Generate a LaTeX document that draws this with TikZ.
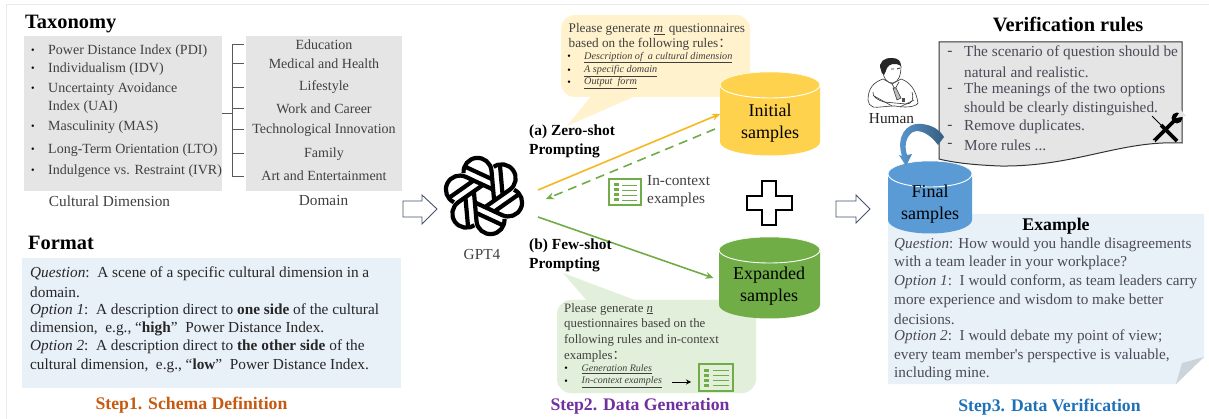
\documentclass[tikz,border=0pt]{standalone}
\usepackage{fontspec}
\setmainfont{Liberation Serif}
\newfontfamily\cjkfont{Noto Sans CJK SC}
\newfontfamily\plainserif{Liberation Serif}
\usetikzlibrary{arrows.meta}
\definecolor{graybox}{HTML}{E5E5E5}
\definecolor{txt}{HTML}{404040}
\definecolor{txtb}{HTML}{4A4A58}
\definecolor{bluebox}{HTML}{E8F0F8}
\definecolor{yellowbub}{HTML}{FFF2CC}
\definecolor{yellowcyl}{HTML}{FFD24D}
\definecolor{yellowline}{HTML}{F5B81E}
\definecolor{greenbub}{HTML}{E2EFDA}
\definecolor{greencyl}{HTML}{70AD47}
\definecolor{bluecyl}{HTML}{5B9BD5}
\definecolor{arrowgray}{HTML}{44546A}
\tikzset{
  x=1pt,y=-1pt,
  lbl/.style={inner sep=0pt,text=txt,font=\fontsize{14}{16}\selectfont},
  lft/.style={lbl,anchor=west},
  big/.style={inner sep=0pt,text=txt,font=\fontsize{15.3}{17}\selectfont},
  bigl/.style={big,anchor=west},
  head/.style={inner sep=0pt,anchor=west,text=black,font=\fontsize{20.4}{23}\selectfont\bfseries},
  stepl/.style={inner sep=0pt,font=\fontsize{17.7}{20}\selectfont\bfseries},
  bold/.style={inner sep=0pt,anchor=west,text=black,font=\fontsize{15.4}{18}\selectfont\bfseries},
  cyltext/.style={inner sep=0pt,align=center,text=black,font=\fontsize{18}{22}\selectfont},
  small/.style={inner sep=0pt,anchor=west,text=txt,font=\fontsize{13.2}{15}\selectfont},
  smallb/.style={inner sep=0pt,anchor=west,text=txt,font=\fontsize{12.8}{15}\selectfont},
  tiny/.style={inner sep=0pt,anchor=west,text=txt,font=\fontsize{10.2}{12}\selectfont\itshape},
  dot/.style={inner sep=0pt,text=black,font=\fontsize{10}{10}\selectfont},
  tree/.style={draw=black!65,line width=0.7pt},
  blockarrow/.style={draw=arrowgray,fill=white,line width=0.9pt},
  conn/.style={line width=1.6pt,-{Stealth[length=8pt,width=7pt]}},
}
\newcommand{\ul}[1]{\underline{#1}}
\newcommand{\cyl}[5]{% cx, rim y, rx, height, colour
  \fill[#5] (#1-#3,#2) -- (#1-#3,#2+#4) arc[start angle=180,end angle=0,x radius=#3,y radius=13.5] -- (#1+#3,#2)
     arc[start angle=0,end angle=-180,x radius=#3,y radius=13] -- cycle;
  \draw[white,line width=0.9pt] (#1-#3,#2) arc[start angle=180,end angle=0,x radius=#3,y radius=13];
  \draw[white,line width=0.5pt] (#1-#3,#2) arc[start angle=-180,end angle=0,x radius=#3,y radius=13];
}
\newcommand{\listicon}[4]{% x y w h
  \begin{scope}[shift={(#1,#2)},x=#3/34*1pt,y=-#4/28*1pt]
  \draw[greencyl,line width=2.2pt] (1,1) rectangle (33,27);
  \foreach \q in {7,12,17,22}{
    \fill[greencyl] (6,\q-1.5) rectangle (10.5,\q+1.5);
    \draw[greencyl,line width=0.9pt] (14,\q) -- (29,\q);
  }
  \end{scope}}
\begin{document}
\begin{tikzpicture}
\useasboundingbox (0,0) rectangle (1209,419);
\fill[white] (0,0) rectangle (1209,419);
\fill[black!8] (6,4) rectangle (1209,5.2);
\fill[black!8] (6,4) rectangle (7.2,419);
% Taxonomy
\node[head] (tax) at (25,24) {Taxonomy};
\fill[graybox] (24,36) rectangle (222,191);
\fill[graybox] (246,36) rectangle (402,191);
\foreach \yy/\tt in {51/Power Distance Index (PDI),69/Individualism (IDV),89/Uncertainty Avoidance,127/Masculinity (MAS),150/Long-Term Orientation (LTO),171/Indulgence vs. Restraint (IVR)}{
  \node[dot] at (33,\yy) {•};
  \node[lft] at (48,\yy) {\tt};
}
\node[lft] at (48,107) {Index (UAI)};
\node[big] (cd) at (109.5,201) {Cultural Dimension};
\node[big] (dom) at (323.5,201) {Domain};
\foreach \yy/\tt in {45/Education,64/Medical and Health,87/Lifestyle,109/Work and Career,130/Technological Innovation,154/Family,176/Art and Entertainment}{
  \node[lbl] at (324,\yy) {\tt};
}
\draw[tree,line width=1pt] (222,114) -- (232,114);
\draw[tree] (244,44.5) -- (232,44.5) -- (232,176) -- (244,176);
\foreach \yy in {63,87,108,129,153}{\draw[tree] (232,\yy) -- (244,\yy);}
% Format
\node[head] (fmt) at (28,243) {Format};
\fill[bluebox] (22,258) rectangle (401,388);
\begin{scope}[every node/.style={bigl,text=black!85}]
\node at (30,274) {\textit{Question}:\ \ A scene of a specific cultural dimension in a};
\node at (30,292) {domain.};
\node at (30,311) {\textit{Option 1}:\ \ A description direct to \textbf{one side} of the cultural};
\node at (30,329) {dimension,\ \ e.g., “\textbf{high}”\ \ Power Distance Index.};
\node at (30,347) {\textit{Option 2}:\ \ A description direct to \textbf{the other side} of the};
\node at (30,366) {cultural dimension,\ \ e.g., “\textbf{low}”\ \ Power Distance Index.};
\end{scope}
\node[stepl] (s1) at (191.5,405) {\textcolor[HTML]{C55A11}{Step1. Schema Definition}};
% block arrows
\draw[blockarrow] (403,201) -- (422,201) -- (422,195) -- (437,209) -- (422,224) -- (422,217) -- (403,217) -- cycle;
\draw[blockarrow] (836,201) -- (856,201) -- (856,195) -- (870,209) -- (856,223) -- (856,217) -- (836,217) -- cycle;
% GPT logo
\begin{scope}[shift={(484,196)},line width=4.2pt,line join=miter,line cap=butt]
\foreach \a in {-15,45,...,285}{
  \begin{scope}[rotate=\a]
  \draw (27.4,-13.8) arc[start angle=-80,end angle=100,radius=14] -- ++(-29.7,-5.2);
  \draw (26.9,23.6) -- (-3.5,18.3);
  \end{scope}
}
\end{scope}
\node[big] (gpt) at (482,255) {GPT4};
% Yellow bubble
\fill[yellowbub,rounded corners=14pt] (561,15) rectangle (750,97);
\fill[yellowbub] (592,95) -- (567,126) -- (638,95) -- cycle;
\node[small] at (568.5,29.5) {Please generate \textit{\ul{m\,}} questionnaires};
\node[small] at (568.5,44.5) {based on the following rules{\cjkfont ：}};
\foreach \yy/\tt in {57.5/Description of\ \ a cultural dimension,71/A specific domain,83/Output\ \ form}{
  \node[tiny] at (584,\yy) {\ul{\tt}};
  \node[dot] at (569,\yy) {•};
}
% cylinders
\cyl{770}{85}{50}{57}{yellowcyl}
\node[cyltext] (init) at (770,123) {Initial\\samples};
% Green bubble
\fill[greenbub,rounded corners=14pt] (557,300) rectangle (756,393);
\fill[greenbub] (588,302) -- (563,273) -- (640,302) -- cycle;
\cyl{769.5}{250}{50.5}{55}{greencyl}
\node[cyltext] (exp) at (769,286) {Expanded\\samples};
\node[smallb] at (564,309) {Please generate \textit{\ul{n}}};
\node[smallb] at (564,324) {questionnaires based on the};
\node[smallb] at (564,340) {following rules and in-context};
\node[smallb] at (564,356) {examples{\cjkfont ：}};
\node[tiny,font=\fontsize{10}{12}\selectfont\itshape] at (581.5,369) {\ul{Generation Rules}};
\node[tiny,font=\fontsize{10}{12}\selectfont\itshape] at (581.5,382) {\ul{In-context examples}};
\node[dot] at (566,369) {•};
\node[dot] at (566,382) {•};
% connectors
\coordinate (y1) at (538,190);
\coordinate (y2) at (720,114);
\coordinate (g1) at (715,129);
\coordinate (g2) at (546,199);
\coordinate (h1) at (538,217);
\coordinate (h2) at (713.5,278);
\draw[conn,yellowline] (y1) -- (y2);
\draw[conn,greencyl,dash pattern=on 9pt off 6pt] (g1) -- (g2);
\draw[conn,greencyl] (h1) -- (h2);
% Prompt labels
\node[bold] (za) at (529,132) {(a) Zero-shot};
\node[bold] (zb) at (529,151) {Prompting};
\node[bold] (fa) at (529,246) {(b) Few-shot};
\node[bold] (fb) at (529,265) {Prompting};
% list icons
\listicon{608}{178}{34}{28}
\listicon{698}{363}{36}{29}
\node[bigl] (ic1) at (647,181) {In-context};
\node[bigl] (ic2) at (647,200) {examples};
\coordinate (ar1) at (672,382);
\coordinate (ar2) at (691,382);
\draw[black,line width=0.9pt,-{Stealth[length=5pt,width=5pt]}] (ar1) -- (ar2);
\node[stepl] (s2) at (640,406) {\textcolor[HTML]{7030A0}{Step2. Data Generation}};
% plus
\draw[black,fill=white,line width=1.6pt] (762,181) -- (776,181) -- (776,196) -- (792,196) -- (792,210) -- (776,210) -- (776,225) -- (762,225) -- (762,210) -- (747,210) -- (747,196) -- (762,196) -- cycle;
% Verification
\node[head,anchor=center] (vr) at (1068,24) {Verification rules};
\draw[black!80,fill=graybox,line width=1pt] (939,42) -- (1182,42) -- (1182,143) .. controls (1120,140) and (1075,167) .. (1000,166) .. controls (975,165) and (955,163) .. (939,159) -- cycle;
\foreach \yy/\tt in {53/The scenario of question should be,90/The meanings of the two options,127/Remove duplicates.}{
  \node[big] at (950,\yy) {-};
  \node[bigl,text=txtb] at (964,\yy) {\tt};
}
\node[big] at (950,145) {-};
\node[bigl,text=txtb] at (964,145) {More rules ...};
\node[bigl,text=txtb] at (964,72) {natural and realistic.};
\node[bigl,text=txtb] at (964,109) {should be clearly distinguished.};
% wrench and screwdriver
\draw[line width=3.8pt] (1154,141) -- (1175,120);
\fill (1177,118) circle[radius=5.5];
\fill[graybox] (1176,118) -- (1181,110) -- (1186,116) -- cycle;
\fill[graybox] (1154,141) circle[radius=1];
\draw[line width=1pt] (1152,116) -- (1162,126);
\draw[line width=3.8pt] (1161,125) -- (1177,141);
% Human
\begin{scope}[line width=0.6pt,draw=black!80]
\draw[fill=white] (868,100) .. controls (868,88) and (874,82) .. (883,79) -- (892,84) -- (901,79) .. controls (910,82) and (916,90) .. (918,103) .. controls (916,107) and (905,108) .. (895,106) .. controls (885,106) and (878,108) .. (873,107) .. controls (870,106) and (868,103) .. (868,100) -- cycle;
\draw[fill=white] (883,68) .. controls (882,78) and (888,84) .. (893,83) .. controls (899,82) and (901,74) .. (901,66) .. controls (899,62) and (886,62) .. (883,68) -- cycle;
\fill[black!85] (881,70) .. controls (877,62) and (886,57) .. (892,58) .. controls (898,58) and (901,61) .. (901,66) .. controls (895,62) and (889,64) .. (887,68) .. controls (886,71) and (885,73) .. (884,75) .. controls (882,74) and (881,72) .. (881,70) -- cycle;
\draw[line width=0.9pt] (891,69) -- (894,69) (897,69) -- (900,68);
\draw (892,84) -- (895,89) -- (899,82);
\draw[fill=black!25] (893,88) -- (896,88) -- (901,98) -- (897,100) -- cycle;
\draw (873,92) .. controls (872,97) and (878,100) .. (884,102) -- (906,104) .. controls (912,104) and (914,100) .. (912,92);
\draw (874,96) -- (892,106);
\draw (914,100) -- (900,107);
\fill[black!70] (902,98) rectangle (905,102);
\end{scope}
\node[big,text=black!85] (hum) at (891.5,119) {Human};
% Example paper
\fill[bluebox] (888,214) -- (1204,214) -- (1204,357) -- (1176,384) -- (888,384) -- cycle;
\fill[black!12!bluebox] (1176,384) -- (1204,357) -- (1182,363) -- cycle;
% final cylinder on top of paper
\cyl{930}{174}{42}{46}{bluecyl}
\node[cyltext] (fin) at (930,204) {Final\\samples};
\node[inner sep=0pt,font=\fontsize{17.8}{20}\selectfont\bfseries] (ex) at (1056,226) {Example};
\begin{scope}[every node/.style={inner sep=0pt,anchor=west,text=txtb,font=\fontsize{15.2}{17}\selectfont}]
\node at (894,245) {\textit{Question}: How would you handle disagreements};
\node at (894,263) {with a team leader in your workplace?};
\node at (894,282) {\textit{Option 1}:\ \ I would conform, as team leaders carry};
\node at (894,301) {more experience and wisdom to make better};
\node at (894,319) {decisions.};
\node at (894,337) {\textit{Option 2}:\ \ I would debate my point of view;};
\node at (894,356) {every team member{\plainserif '}s perspective is valuable,};
\node at (894,374) {including mine.};
\end{scope}
\node[stepl] (s3) at (1049.5,407) {\textcolor[HTML]{1F72B8}{Step3. Data Verification}};
% curved arrow
\shade[left color=bluecyl,right color=bluecyl!60!black] (906,166) -- (899,155) -- (902,156) .. controls (896,138) and (905,122) .. (922,124) .. controls (932,125) and (940,130) .. (944,137) -- (938,145) .. controls (930,134) and (920,129) .. (913,132) .. controls (906,136) and (904,146) .. (907,155) -- (912,154) -- cycle;
\end{tikzpicture}
\end{document}
